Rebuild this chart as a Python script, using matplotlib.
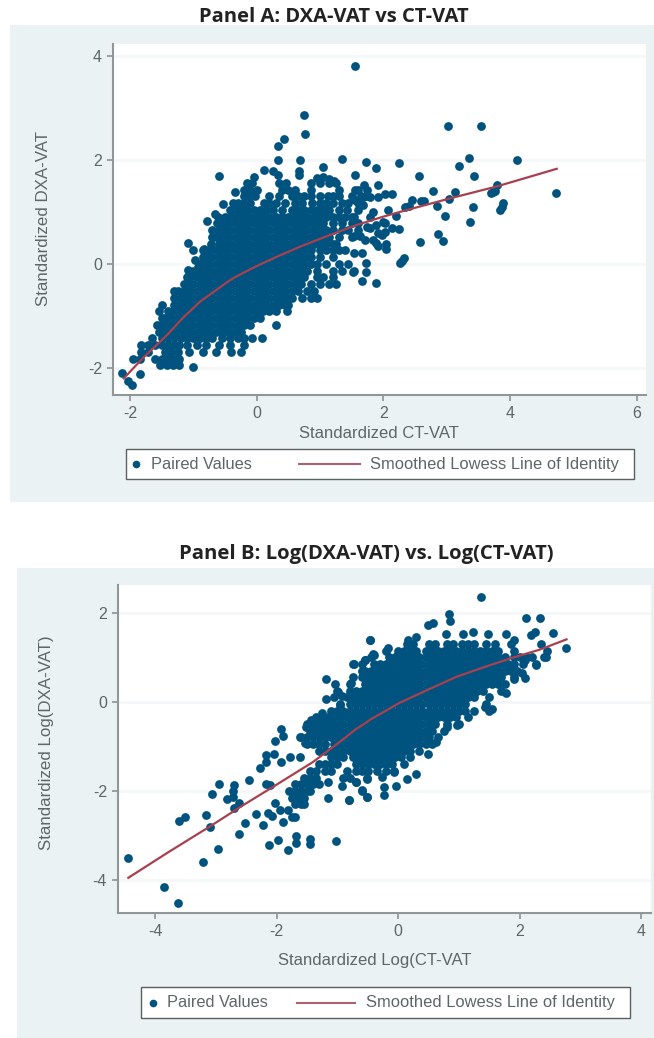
import matplotlib
matplotlib.use("Agg")
import matplotlib.pyplot as plt
from matplotlib.lines import Line2D
from matplotlib.patches import Rectangle

W, H = 654, 1038
DOT = "#00537f"
LINE = "#a8404f"
BG = "#eaf2f3"
GREY = "#5f6668"

# panel A: dense part of the cloud, y -> x values
a_cloud = {
    -1.95: [-1.52, -1.42, -1.32, -1.22],
    -1.82: [-1.95, -1.85, -1.6, -1.5, -1.4, -1.3, -1.22],
    -1.69: [-1.82, -1.72, -1.45, -1.35, -1.25, -1.07, -0.85, -0.65, -0.4, -0.25],
    -1.56: [-1.82, -1.72, -1.6, -1.5, -1.4, -1.3, -1.22, -1.1, -0.95, -0.8, -0.6, -0.42, -0.2],
    -1.43: [-1.65, -1.5, -1.4, -1.3, -1.2, -1.1, -1.0, -0.9, -0.8, -0.7, -0.55, -0.42, -0.3, -0.2, -0.07, 0.09],
    -1.3: [-1.55, -1.45, -1.35, -1.25, -1.15, -1.05, -0.95, -0.85, -0.75, -0.65, -0.55, -0.45, -0.35, -0.25],
    -1.17: [-1.58, -1.5, -1.4, -1.3, -1.2, -1.1, -1.0, -0.9, -0.8, -0.7, -0.6, -0.5, -0.4, -0.3, -0.2, -0.1, 0.3],
    -1.04: [-1.5, -1.45, -1.35, -1.25, -1.15, -1.05, -0.95, -0.85, -0.75, -0.65, -0.55, -0.45, -0.35, -0.25, -0.15, -0.05, 0.05],
    -0.91: [-1.55, -1.4, -1.3, -1.2, -1.1, -1.0, -0.9, -0.8, -0.7, -0.6, -0.5, -0.4, -0.3, -0.2, -0.1, 0.0, 0.1, 0.2, 0.3, 0.48],
    -0.78: [-1.5, -1.3, -1.25, -1.15, -1.05, -0.95, -0.85, -0.75, -0.65, -0.55, -0.45, -0.35, -0.25, -0.15, -0.05, 0.05, 0.15, 0.25, 0.35, 0.45, 0.5],
    -0.65: [-1.3, -1.2, -1.1, -1.0, -0.9, -0.8, -0.7, -0.6, -0.5, -0.4, -0.3, -0.2, -0.1, 0.0, 0.1, 0.2, 0.3, 0.4, 0.5, 0.55, 0.72, 0.85, 0.95],
    -0.52: [-1.3, -1.25, -1.15, -1.05, -0.95, -0.85, -0.75, -0.65, -0.55, -0.45, -0.35, -0.25, -0.15, -0.05, 0.05, 0.15, 0.25, 0.35, 0.45, 0.55, 0.65, 0.8, 0.9],
    -0.39: [-1.15, -1.1, -1.0, -0.9, -0.8, -0.7, -0.6, -0.5, -0.4, -0.3, -0.2, -0.1, 0.0, 0.1, 0.2, 0.3, 0.4, 0.5, 0.6, 0.7, 0.85, 1.0, 1.15, 1.25],
    -0.26: [-1.1, -1.05, -0.95, -0.85, -0.75, -0.65, -0.55, -0.45, -0.35, -0.25, -0.15, -0.05, 0.05, 0.15, 0.25, 0.35, 0.45, 0.55, 0.65, 0.75, 0.95, 1.05, 1.2],
    -0.13: [-1.0, -0.9, -0.8, -0.7, -0.6, -0.5, -0.4, -0.3, -0.2, -0.1, 0.0, 0.1, 0.2, 0.3, 0.4, 0.5, 0.6, 0.7, 0.8, 0.95, 1.2, 1.35, 1.53],
    0.0: [-0.9, -0.85, -0.75, -0.65, -0.55, -0.45, -0.35, -0.25, -0.15, -0.05, 0.05, 0.15, 0.25, 0.35, 0.45, 0.55, 0.65, 0.75, 0.85, 0.95, 1.1, 1.3, 1.45],
    0.13: [-0.85, -0.8, -0.7, -0.6, -0.5, -0.4, -0.3, -0.2, -0.1, 0.0, 0.1, 0.2, 0.3, 0.4, 0.5, 0.6, 0.7, 0.8, 0.85, 1.0, 1.2],
    0.26: [-0.85, -0.75, -0.65, -0.55, -0.45, -0.35, -0.25, -0.15, -0.05, 0.05, 0.15, 0.25, 0.35, 0.45, 0.55, 0.65, 0.75, 0.85, 1.0, 1.1, 1.2, 1.3, 1.4],
    0.39: [-0.72, -0.6, -0.5, -0.4, -0.3, -0.2, -0.1, 0.0, 0.1, 0.2, 0.3, 0.4, 0.5, 0.6, 0.7, 0.8, 0.9, 1.0, 1.1, 1.2, 1.25],
    0.52: [-0.7, -0.65, -0.55, -0.45, -0.35, -0.25, -0.15, -0.05, 0.05, 0.15, 0.25, 0.35, 0.45, 0.55, 0.65, 0.75, 0.85, 0.95, 1.05, 1.15, 1.3, 1.5],
    0.65: [-0.7, -0.6, -0.5, -0.4, -0.3, -0.2, -0.1, 0.0, 0.1, 0.2, 0.3, 0.4, 0.5, 0.6, 0.7, 0.8, 0.9, 1.0, 1.1, 1.2, 1.35, 1.45, 1.6],
    0.78: [-0.62, -0.55, -0.45, -0.35, -0.25, -0.15, -0.05, 0.05, 0.15, 0.25, 0.35, 0.45, 0.55, 0.65, 0.75, 0.85, 0.95, 1.05, 1.2, 1.35, 1.5, 1.6],
    0.91: [-0.5, -0.4, -0.3, -0.2, -0.1, 0.0, 0.1, 0.2, 0.3, 0.4, 0.5, 0.6, 0.7, 0.8, 0.9, 1.0, 1.1, 1.2, 1.3, 1.4, 1.5],
    1.04: [-0.42, -0.35, -0.25, -0.15, -0.05, 0.05, 0.15, 0.25, 0.4, 0.55, 0.65, 0.75, 0.85, 0.95, 1.05, 1.15, 1.3, 1.42],
    1.17: [-0.37, -0.3, -0.2, -0.1, 0.12, 0.2, 0.3, 0.45, 0.6, 0.72, 0.88, 1.0, 1.1, 1.2, 1.35, 1.45, 1.6],
    1.3: [-0.2, -0.12, -0.02, 0.2, 0.35, 0.55, 0.65, 0.75, 0.85, 1.0, 1.12, 1.2, 1.3, 1.5, 1.65, 1.75],
    1.43: [-0.2, -0.1, 0.0, 0.4, 0.5, 0.6, 0.85, 1.3, 1.6],
    1.56: [-0.15, -0.08, 0.35, 0.47, 0.85, 1.0, 1.15, 1.25],
}
# panel A: points that stand clear of the cloud
a_outer_x = [1.56, 0.75, 0.77, 0.43, 0.33, 0.33, 0.69, 1.34, 1.72, 1.88, 2.25, 1.56, 1.05, 0.67, 0.67, 0.11, 0.26, 0.34,
             -0.05, -0.59, -0.35, -0.54, -0.66, -0.61, -0.79, -1.09, -1.0, -0.97, -0.92, -1.09, -0.83,
             -2.12, -2.03, -1.97, -1.85, -1.0, 0.95, 1.05, 1.15, 1.22,
             3.02, 3.54, 4.11, 3.36, 3.19, 3.43, 2.57, 2.79, 3.14, 3.04, 3.8, 3.77, 3.7, 3.74, 4.73, 2.45, 2.6, 2.64,
             2.34, 2.4, 2.85, 2.97, 3.41, 3.89, 3.87, 3.84, 3.37, 2.2, 2.08, 1.84, 2.86, 2.95, 2.58, 2.33, 2.26, 2.3,
             2.05, 2.04, 1.91, 2.25, 2.13, 2.03, 1.92, 1.79, 1.84, 1.71, 1.63, 1.53, 1.66, 1.53, 1.72, 1.72, 1.52,
             1.66, 1.89, 1.92, 1.69, 1.74, 1.55, 2.03, 2.14, 1.79, 1.92, 1.68, 1.55, 1.68, 1.6, 1.53, 2.0, 1.79, 1.74,
             2.03, 1.89, 1.98, 1.88]
a_outer_y = [3.81, 2.86, 2.49, 2.40, 2.27, 1.99, 2.0, 2.02, 1.96, 1.84, 1.94, 1.71, 1.87, 1.78, 1.71, 1.81, 1.78, 1.71,
             1.67, 1.69, 1.39, 1.15, 0.97, 0.91, 0.83, 0.41, 0.26, 0.08, -0.05, -0.12, 0.29,
             -2.1, -2.26, -2.33, -2.12, -1.98, 1.66, 1.68, 1.64, 1.6,
             2.65, 2.65, 1.99, 2.03, 1.88, 1.70, 1.69, 1.41, 1.39, 1.24, 1.52, 1.41, 1.37, 1.38, 1.37, 1.23, 1.21, 1.21,
             1.09, 1.12, 1.12, 0.93, 1.09, 1.17, 1.1, 1.04, 0.81, 0.93, 1.03, 0.99, 0.58, 0.44, 0.42, 0.11, 0.01, 0.06,
             0.28, 0.38, 0.35, 0.67, 0.69, 0.62, 0.59, 0.69, 0.46, 0.46, 0.53, 0.53, 0.21, 0.21, 0.01, -0.15, -0.15,
             -0.32, -0.37, 1.51, 1.52, 1.42, 1.42, 1.34, 1.35, 1.29, 1.28, 1.29, 1.23, 1.13, 1.04, 0.91, 0.81, 0.91, 0.72,
             0.78, 0.75, 0.55, 0.4]
a_line_x = [-2.1, -1.79, -1.42, -1.16, -0.89, -0.58, -0.42, -0.26, -0.13, 0.0, 0.16, 0.32, 0.68, 1.1, 1.58, 2.0, 2.26, 3.05, 3.79, 4.74]
a_line_y = [-2.2, -1.8, -1.37, -1.03, -0.72, -0.45, -0.31, -0.2, -0.12, -0.04, 0.05, 0.14, 0.33, 0.53, 0.75, 0.91, 1.0, 1.26, 1.49, 1.83]

# panel B: dense part of the cloud, y -> x values
b_cloud = {
    1.3: [0.15, 0.25, 0.5, 0.6, 0.8, 0.9, 1.05, 1.15, 1.25, 1.45, 1.6, 1.85],
    1.15: [-0.2, 0.0, 0.1, 0.2, 0.3, 0.45, 0.55, 0.65, 0.75, 0.85, 0.95, 1.05, 1.15, 1.25, 1.35, 1.45, 1.55, 1.65, 1.9],
    1.0: [-0.45, -0.15, -0.05, 0.05, 0.15, 0.25, 0.35, 0.45, 0.55, 0.65, 0.75, 0.85, 0.95, 1.05, 1.15, 1.25, 1.35, 1.45, 1.55, 1.65, 1.75, 1.9, 2.0, 2.1, 2.2, 2.4],
    0.85: [-0.6, -0.4, -0.3, -0.2, -0.1, 0.0, 0.1, 0.2, 0.3, 0.4, 0.5, 0.6, 0.7, 0.8, 0.9, 1.0, 1.1, 1.2, 1.3, 1.4, 1.5, 1.6, 1.7, 1.8, 1.9, 2.05, 2.26],
    0.7: [-0.6, -0.55, -0.45, -0.35, -0.25, -0.15, -0.05, 0.05, 0.15, 0.25, 0.35, 0.45, 0.55, 0.65, 0.75, 0.85, 0.95, 1.05, 1.15, 1.25, 1.35, 1.45, 1.55, 1.65, 1.75, 1.85, 1.95],
    0.55: [-0.75, -0.6, -0.5, -0.4, -0.3, -0.2, -0.1, 0.0, 0.1, 0.2, 0.3, 0.4, 0.5, 0.6, 0.7, 0.8, 0.9, 1.0, 1.1, 1.2, 1.3, 1.4, 1.5, 1.6, 1.7, 1.9],
    0.4: [-0.8, -0.55, -0.45, -0.35, -0.25, -0.15, -0.05, 0.05, 0.15, 0.25, 0.35, 0.45, 0.55, 0.65, 0.75, 0.85, 0.95, 1.05, 1.15, 1.25, 1.35, 1.45, 1.55, 1.65, 1.75],
    0.25: [-1.0, -0.8, -0.7, -0.6, -0.5, -0.4, -0.3, -0.2, -0.1, 0.0, 0.1, 0.2, 0.3, 0.4, 0.5, 0.6, 0.7, 0.8, 0.9, 1.0, 1.1, 1.2, 1.3, 1.4, 1.7],
    0.1: [-1.05, -0.85, -0.75, -0.65, -0.55, -0.45, -0.35, -0.25, -0.15, -0.05, 0.05, 0.15, 0.25, 0.35, 0.45, 0.55, 0.65, 0.75, 0.85, 0.95, 1.05, 1.15, 1.25, 1.5],
    -0.05: [-0.95, -0.8, -0.7, -0.6, -0.5, -0.4, -0.3, -0.2, -0.1, 0.0, 0.1, 0.2, 0.3, 0.4, 0.5, 0.6, 0.7, 0.8, 0.9, 1.0, 1.1, 1.45],
    -0.2: [-1.1, -1.0, -0.9, -0.8, -0.7, -0.6, -0.5, -0.4, -0.3, -0.2, -0.1, 0.0, 0.1, 0.2, 0.3, 0.4, 0.5, 0.6, 0.7, 0.8, 0.9, 1.0, 1.1, 1.25, 1.5],
    -0.35: [-1.35, -1.25, -1.15, -1.05, -0.95, -0.85, -0.75, -0.65, -0.55, -0.45, -0.35, -0.25, -0.15, -0.05, 0.05, 0.15, 0.25, 0.35, 0.45, 0.55, 0.65, 0.75, 0.85, 0.95, 1.15],
    -0.5: [-1.5, -1.4, -1.3, -1.2, -1.1, -1.0, -0.9, -0.8, -0.7, -0.6, -0.5, -0.4, -0.3, -0.2, -0.1, 0.0, 0.1, 0.2, 0.3, 0.4, 0.5, 0.6, 0.8, 1.0],
    -0.65: [-1.45, -1.35, -1.25, -1.15, -1.05, -0.95, -0.85, -0.75, -0.65, -0.55, -0.45, -0.35, -0.25, -0.15, -0.05, 0.05, 0.15, 0.25, 0.35, 0.45, 0.55, 0.75],
    -0.8: [-1.6, -1.5, -1.4, -1.3, -1.2, -1.1, -1.0, -0.9, -0.8, -0.7, -0.6, -0.5, -0.4, -0.3, -0.2, -0.1, 0.0, 0.1, 0.2, 0.3, 0.4, 0.5, 0.65],
    -0.95: [-1.5, -1.4, -1.3, -1.2, -1.05, -0.95, -0.85, -0.75, -0.65, -0.55, -0.45, -0.35, -0.25, -0.15, -0.05, 0.05, 0.15, 0.25, 0.35, 0.45, 0.55],
    -1.1: [-1.3, -1.2, -1.1, -1.0, -0.9, -0.8, -0.7, -0.6, -0.5, -0.4, -0.3, -0.2, -0.1, 0.0, 0.1, 0.2, 0.35],
    -1.25: [-1.1, -1.0, -0.9, -0.75, -0.65, -0.55, -0.45, -0.35, -0.25, -0.15, -0.05, 0.05, 0.2],
    -1.4: [-1.3, -1.2, -1.1, -1.0, -0.7, -0.6, -0.5, -0.4, -0.3, -0.2, -0.1, 0.1],
    -1.55: [-1.45, -1.35, -1.2, -1.1, -0.85, -0.7, -0.6, -0.5, -0.35, -0.2, -0.07],
    -1.7: [-1.55, -1.45, -1.35, -0.9, -0.8],
    -1.85: [-1.7, -1.6, -1.5, -1.4, -1.3],
    -2.0: [-1.8, -1.7, -1.6, -1.5, -1.45],
    -2.15: [-1.75, -1.65, -1.55],
    -2.3: [-1.7, -1.6, -1.55],
}
# panel B: points that stand clear of the cloud
b_outer_x = [-4.44, -3.85, -3.63, -3.21, -2.97, -2.62, -3.6, -3.5, -3.17, -3.1, -3.07, -2.94, -2.82, -2.7, -2.71, -2.71,
             -2.62, -2.7, -2.46, -2.52, -2.34, -2.23, -2.28, -2.18, -2.17, -2.05, -2.02, -1.92, -1.9, -1.93, -2.18,
             -2.11, -2.14, -2.08, -2.02, -1.95, -1.9, -2.12, -1.97, -1.82, -1.68, -1.68, -1.45, -1.45, -1.03, -1.81,
             -1.75, -1.7, -1.16, -1.16, -0.81, -0.7, -0.6, -0.51, -0.52, -0.93,
             -0.46, -0.55, -0.4, -0.73, -0.78, -1.18, -1.04, -0.99, -0.92, -1.18, -0.96, -0.58, -1.26, -1.43, -1.51,
             -1.62, -1.54, -1.78, -1.62,
             -0.74, -0.55, -0.41, -0.47, -0.16, 0.16, 0.3, 0.49, 0.58, 0.83, 0.85, 0.78, 1.06, 1.23, 1.37, 1.48, 1.77,
             1.9, 2.1, 2.33, 2.25, 2.19, 2.54, 2.76, 2.44, 2.26, 2.08, 2.04, 2.08, 1.91, 1.77, 1.55, 1.43, 0.96, 0.8,
             0.63, 0.49, 0.29, 0.14, -0.04, -0.23, -0.23, -0.07, -0.26, -0.51, -0.51, -0.6, -0.7, -0.81, 2.35, 2.45]
b_outer_y = [-3.51, -4.15, -4.52, -3.59, -3.31, -2.97, -2.67, -2.58, -2.54, -2.82, -2.06, -1.84, -2.19, -1.87, -2.0, -2.13,
             -2.28, -2.39, -1.76, -2.72, -2.52, -2.77, -1.49, -1.2, -1.36, -1.17, -0.88, -0.61, -0.76, -1.35, -1.85,
             -1.87, -2.5, -2.56, -2.28, -2.43, -2.69, -3.21, -3.1, -3.32, -3.01, -3.18, -3.09, -3.19, -3.12, -2.43,
             -2.58, -2.59, -1.79, -2.15, -2.2, -1.79, -1.98, -2.13, -1.72, -1.88,
             1.38, 0.93, 1.05, 0.84, 0.43, 0.52, 0.4, 0.22, 0.13, 0.07, -0.07, 0.64, -0.26, -0.4, -0.56,
             -0.8, -0.93, -1.23, -1.25,
             0.84, 0.93, 1.07, 1.38, 1.2, 1.38, 1.46, 1.72, 1.76, 1.98, 1.82, 1.53, 1.51, 1.57, 2.35, 1.53, 1.53,
             1.38, 1.87, 1.88, 1.57, 1.49, 1.55, 1.2, 1.01, 0.82, 0.93, 0.64, 0.54, 0.52, 0.2, -0.17, -0.11, -0.52, -0.56,
             -0.9, -1.18, -1.62, -1.73, -1.89, -2.09, -1.91, -1.57, -1.68, -1.73, -2.14, -2.0, -1.79, -2.2, 1.3, 1.15]
b_line_x = [-4.44, -3.81, -3.1, -2.55, -2.06, -1.4, -0.96, -0.7, -0.41, -0.2, 0.0, 0.41, 0.96, 1.4, 1.84, 2.33, 2.77]
b_line_y = [-3.95, -3.4, -2.8, -2.32, -1.91, -1.35, -0.9, -0.62, -0.36, -0.2, -0.04, 0.22, 0.56, 0.77, 0.97, 1.17, 1.4]

a_xticks = [-2, 0, 2, 4, 6]
a_yticks = [-2, 0, 2, 4]
b_xticks = [-4, -2, 0, 2, 4]
b_yticks = [-4, -2, 0, 2]

LEGEND_POINTS = "Paired Values"
LEGEND_LINE = "Smoothed Lowess Line of Identity"

plt.rcParams["font.family"] = ["Liberation Sans", "DejaVu Sans"]
plt.rcParams["axes.unicode_minus"] = False


def px_box(x0, y0, x1, y1):
    # pixel box (y down) to figure fractions
    return [x0 / W, 1 - y1 / H, (x1 - x0) / W, (y1 - y0) / H]


def unpack(cloud, outer_x, outer_y):
    xs = list(outer_x)
    ys = list(outer_y)
    for y, row in cloud.items():
        xs += row
        ys += [y] * len(row)
    return xs, ys


def draw_legend(fig, box, dot_x, text1_x, line_x0, line_x1, text2_x):
    x0, y0, x1, y1 = box
    mid = 1 - (y0 + y1) / 2 / H
    fig.add_artist(Rectangle((x0 / W, 1 - y1 / H), (x1 - x0) / W, (y1 - y0) / H, transform=fig.transFigure,
                             facecolor="white", edgecolor="#5a5f60", lw=1.0))
    fig.add_artist(Line2D([dot_x / W], [mid], marker="o", ms=4.5, color=DOT, ls="none", transform=fig.transFigure))
    fig.add_artist(Line2D([line_x0 / W, line_x1 / W], [mid, mid], color="#b0616f", lw=1.5, transform=fig.transFigure))
    fig.text(text1_x / W, mid, LEGEND_POINTS, color=GREY, fontsize=11.8, va="center")
    fig.text(text2_x / W, mid, LEGEND_LINE, color=GREY, fontsize=11.9, va="center")


def draw_panel(fig, box, xlim, ylim, xs, ys, line_x, line_y, xticks, yticks, xlabel, ylabel, xlabel_xy, ylabel_xy):
    ax = fig.add_axes(px_box(*box))
    ax.set_xlim(xlim)
    ax.set_ylim(ylim)
    ax.set_facecolor("white")
    ax.grid(True, axis="y", color="#f4f7f8", lw=2)
    ax.set_axisbelow(True)
    ax.scatter(xs, ys, s=40, color=DOT, linewidths=0, zorder=3)
    ax.plot(line_x, line_y, color=LINE, lw=1.6, zorder=4)

    ax.set_xticks(xticks)
    ax.set_yticks(yticks)
    ax.tick_params(colors="#8a9294", labelcolor=GREY, labelsize=11.5, length=4, width=1.2)
    ax.tick_params(axis="x", pad=4)
    ax.tick_params(axis="y", pad=4)
    for side in ["top", "right"]:
        ax.spines[side].set_visible(False)
    for side in ["left", "bottom"]:
        ax.spines[side].set_color("#8f9799")
        ax.spines[side].set_linewidth(1.5)

    ax.set_xlabel(xlabel, color=GREY, fontsize=12)
    ax.set_ylabel(ylabel, color=GREY, fontsize=12.2)
    ax.xaxis.set_label_coords((xlabel_xy[0] - box[0]) / (box[2] - box[0]), (box[3] - xlabel_xy[1]) / (box[3] - box[1]))
    ax.yaxis.set_label_coords((ylabel_xy[0] - box[0]) / (box[2] - box[0]), (box[3] - ylabel_xy[1]) / (box[3] - box[1]))
    ax.xaxis.label.set_va("center")
    ax.yaxis.label.set_va("center")
    return ax


def main():
    fig = plt.figure(figsize=(W / 100, H / 100), dpi=100, facecolor="white")

    fig.patches.append(Rectangle((10 / W, 1 - 502 / H), 644 / W, 477 / H, transform=fig.transFigure, color=BG, lw=0, zorder=-1))
    fig.patches.append(Rectangle((17 / W, 0), 637 / W, 470 / H, transform=fig.transFigure, color=BG, lw=0, zorder=-1))

    fig.text(334 / W, 1 - 17 / H, "Panel A: DXA-VAT vs CT-VAT", family=["Open Sans"], weight="bold", fontsize=14.5, color="#222222", ha="center", va="center")
    fig.text(366 / W, 1 - 554 / H, "Panel B: Log(DXA-VAT) vs. Log(CT-VAT)", family=["Open Sans"], weight="bold", fontsize=14.6, color="#222222", ha="center", va="center")

    xs, ys = unpack(a_cloud, a_outer_x, a_outer_y)
    draw_panel(fig, (113, 44, 646, 395), (-2.27, 6.15), (-2.52, 4.23), xs, ys, a_line_x, a_line_y, a_xticks, a_yticks,
               "Standardized CT-VAT", "Standardized DXA-VAT", (379, 433), (44, 219))
    draw_legend(fig, (126, 449, 634, 479), 136, 151, 299, 360, 370)

    xs, ys = unpack(b_cloud, b_outer_x, b_outer_y)
    draw_panel(fig, (118, 585, 651, 913), (-4.61, 4.16), (-4.74, 2.62), xs, ys, b_line_x, b_line_y, b_xticks, b_yticks,
               "Standardized Log(CT-VAT", "Standardized Log(DXA-VAT)", (375, 960), (47, 743))
    draw_legend(fig, (141, 987, 630, 1018), 153, 167, 297, 355, 366)

    fig.savefig("out.png", dpi=100)


if __name__ == "__main__":
    main()
